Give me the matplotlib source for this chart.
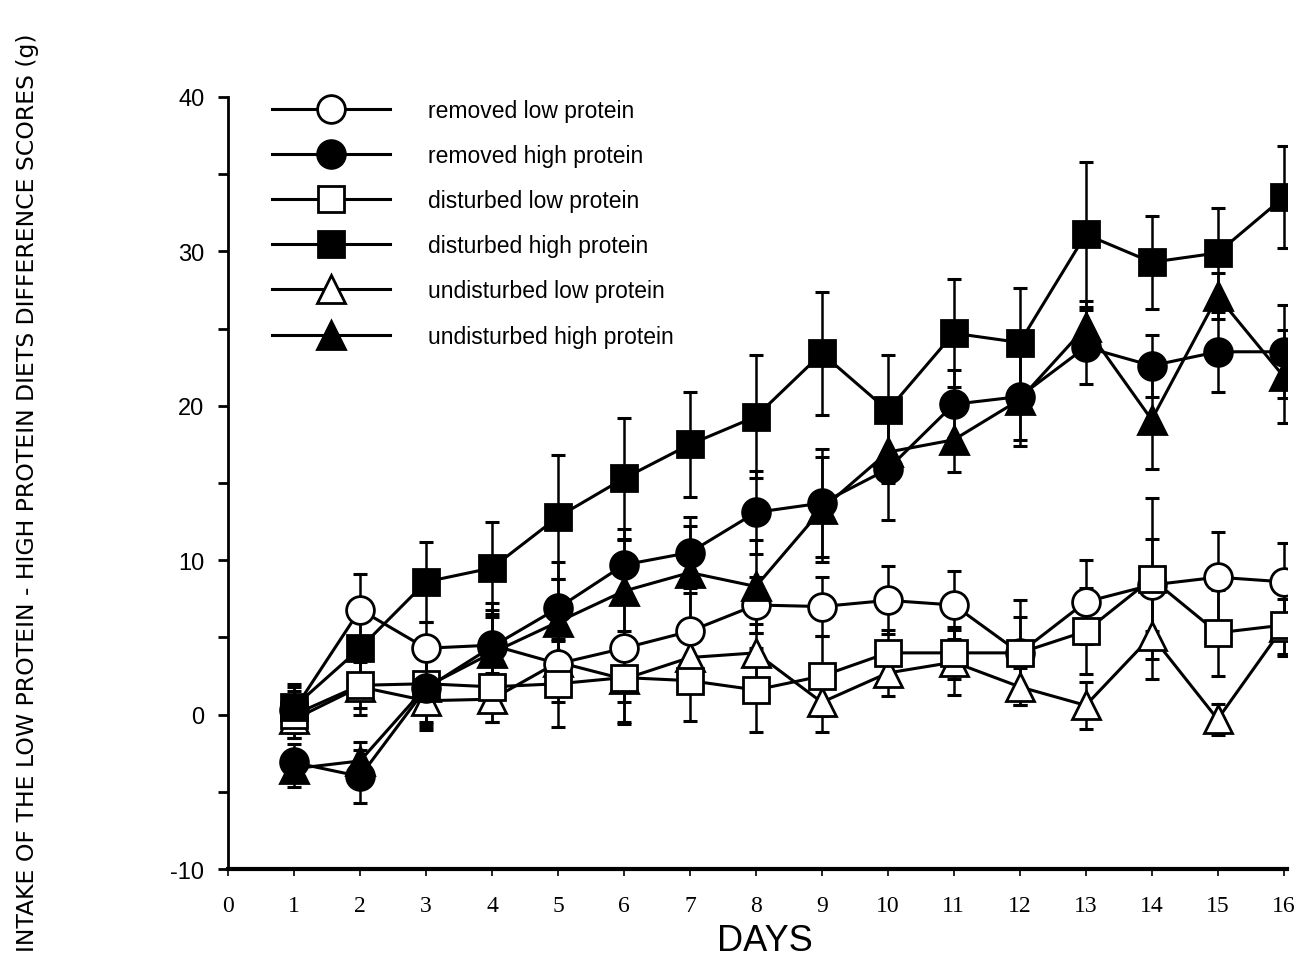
import matplotlib
matplotlib.use("Agg")
import matplotlib.pyplot as plt
from matplotlib.ticker import FixedLocator

days = list(range(1, 17))

removed_low = [0.3, 6.8, 4.3, 4.5, 3.3, 4.3, 5.4, 7.1, 7.0, 7.4, 7.1, 4.0, 7.3, 8.4, 8.9, 8.6]
removed_low_err = [1.5, 2.3, 1.7, 1.8, 2.5, 3.5, 2.5, 1.8, 1.9, 2.2, 2.2, 2.3, 2.7, 3.0, 2.9, 2.5]

removed_high = [-3.1, -4.0, 1.7, 4.4, 6.9, 9.7, 10.5, 13.1, 13.7, 15.9, 20.1, 20.6, 23.8, 22.6, 23.5, 23.5]
removed_high_err = [1.2, 1.7, 2.5, 2.8, 3.0, 2.3, 2.3, 2.7, 3.5, 3.3, 2.2, 2.8, 2.4, 2.0, 2.6, 3.0]

disturbed_low = [0.0, 1.9, 2.0, 1.8, 2.0, 2.4, 2.2, 1.6, 2.5, 4.0, 4.0, 4.0, 5.4, 8.8, 5.3, 5.8]
disturbed_low_err = [1.5, 1.5, 2.5, 2.3, 2.8, 3.0, 2.6, 2.7, 2.6, 1.5, 1.7, 3.4, 2.8, 5.2, 2.8, 2.0]

disturbed_high = [0.5, 4.3, 8.6, 9.5, 12.8, 15.3, 17.5, 19.3, 23.4, 19.7, 24.7, 24.1, 31.1, 29.3, 29.9, 33.5]
disturbed_high_err = [1.5, 2.0, 2.6, 3.0, 4.0, 3.9, 3.4, 4.0, 4.0, 3.6, 3.5, 3.5, 4.7, 3.0, 2.9, 3.3]

undisturbed_low = [-0.3, 1.8, 0.9, 1.0, 3.4, 2.3, 3.7, 4.0, 0.8, 2.7, 3.4, 1.8, 0.6, 5.1, -0.3, 5.7]
undisturbed_low_err = [1.2, 1.8, 1.5, 1.5, 1.5, 2.8, 2.3, 1.9, 1.9, 1.5, 2.1, 1.2, 1.5, 2.8, 1.0, 1.8]

undisturbed_high = [-3.5, -3.0, 1.8, 4.0, 6.0, 8.0, 9.2, 8.3, 13.3, 17.0, 17.8, 20.4, 25.1, 19.1, 27.1, 21.9]
undisturbed_high_err = [1.2, 1.2, 2.8, 2.8, 2.8, 3.3, 3.0, 3.0, 3.4, 2.0, 2.1, 3.0, 1.7, 3.2, 1.5, 3.0]

labels = ["removed low protein", "removed high protein", "disturbed low protein",
          "disturbed high protein", "undisturbed low protein", "undisturbed high protein"]
x_ticks = list(range(0, 17))
y_major = [-10, 0, 10, 20, 30, 40]
y_minor = [-5, 5, 15, 25, 35]

fig = plt.figure(figsize=(12.96, 9.79), dpi=100)
ax = fig.add_axes([0.176, 0.1113, 0.817, 0.7886])

series = [
    (removed_low, removed_low_err, "o", "white", labels[0]),
    (removed_high, removed_high_err, "o", "black", labels[1]),
    (disturbed_low, disturbed_low_err, "s", "white", labels[2]),
    (disturbed_high, disturbed_high_err, "s", "black", labels[3]),
    (undisturbed_low, undisturbed_low_err, "^", "white", labels[4]),
    (undisturbed_high, undisturbed_high_err, "^", "black", labels[5]),
]
draw_order = [4, 0, 2, 1, 5, 3]
handles = {}
for z, i in enumerate(draw_order):
    vals, err, m, fc, lab = series[i]
    ax.errorbar(days, vals, yerr=err, fmt="none", ecolor="black", elinewidth=1.8,
                capsize=5, capthick=2.2, zorder=2 + z * 0.1)
    ms = 20 if m != "s" else 19
    h, = ax.plot(days, vals, marker=m, color="black", mfc=fc, mec="black",
                 mew=2.0, ms=ms, lw=2.2, zorder=3 + z * 0.1, label=lab)
    handles[i] = h

ax.set_xlim(0, 16.05)
ax.set_ylim(-10, 40)
ax.spines["top"].set_visible(False)
ax.spines["right"].set_visible(False)
ax.spines["left"].set_linewidth(2.0)
ax.spines["bottom"].set_linewidth(3.0)

ax.xaxis.set_major_locator(FixedLocator(x_ticks))
ax.set_xticklabels([str(d) for d in x_ticks], fontfamily="Liberation Serif", fontsize=17)
ax.tick_params(axis="x", length=5, width=1.2, pad=14, direction="out")

ax.yaxis.set_major_locator(FixedLocator(y_major))
ax.yaxis.set_minor_locator(FixedLocator(y_minor))
ax.set_yticklabels([str(v) for v in y_major], fontfamily="Liberation Sans", fontsize=17)
ax.tick_params(axis="y", which="both", length=7, width=2.0, pad=10, direction="out")

fig.text(0.59, 0.038, "DAYS", ha="center", va="center", fontsize=26,
         family="Liberation Sans")
fig.text(0.021, 0.497,
         "INTAKE OF THE LOW PROTEIN - HIGH PROTEIN DIETS DIFFERENCE SCORES (g)",
         rotation=90, ha="center", va="center", fontsize=16.9,
         family="DejaVu Sans")

leg = ax.legend(handles=[handles[i] for i in range(6)], loc="upper left",
                bbox_to_anchor=(0.0415, 0.998), frameon=False,
                handlelength=5.15, handletextpad=1.66, labelspacing=0.97,
                borderpad=0, borderaxespad=0,
                prop={"family": "Liberation Sans", "size": 16.5})

fig.savefig("out.png", dpi=100)
